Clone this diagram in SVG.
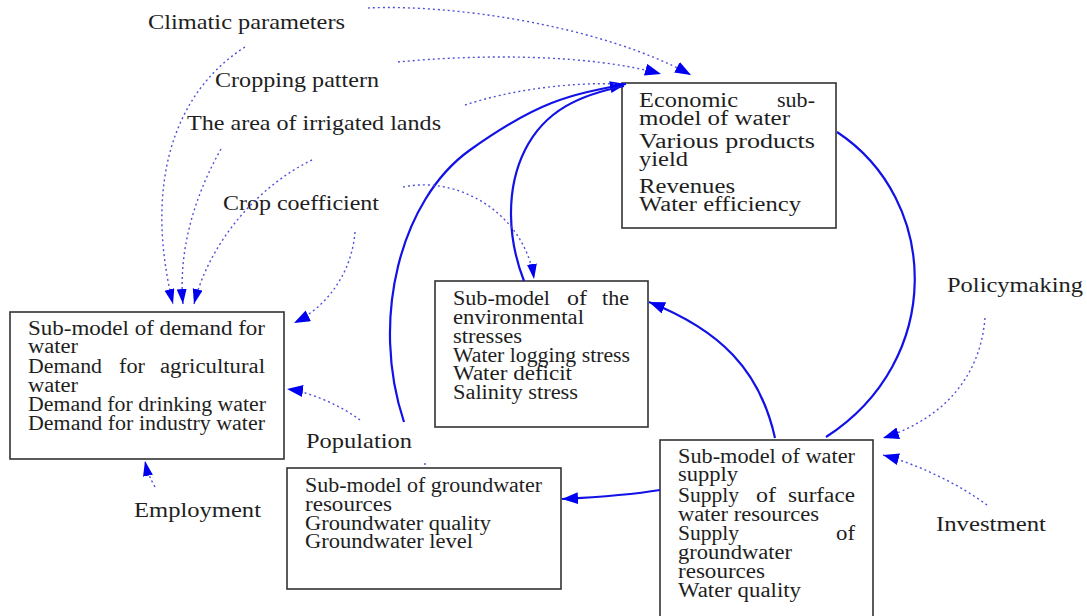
<svg xmlns="http://www.w3.org/2000/svg" width="1087" height="616" viewBox="0 0 1087 616">
<defs>
<style>
.box{fill:#fff;stroke:#333;stroke-width:1.6}
.t{font-family:"Liberation Serif","Times New Roman",serif;font-size:20px;fill:#1e1e1e}
.te{font-family:"Liberation Serif","Times New Roman",serif;font-size:20px;fill:#1e1e1e}
.lb{font-family:"Liberation Serif","Times New Roman",serif;font-size:22px;fill:#1e1e1e}
.s{fill:none;stroke:#1212e6;stroke-width:2.2}
.d{fill:none;stroke:#5050d8;stroke-width:1.4;stroke-dasharray:2 3}
</style>
<marker id="ah" markerUnits="userSpaceOnUse" markerWidth="18" markerHeight="14" refX="16" refY="6" orient="auto">
<path d="M0,0 L16,6 L0,12 z" fill="#0000f0"/>
</marker>
<marker id="an" markerUnits="userSpaceOnUse" markerWidth="16" markerHeight="12" refX="15" refY="5" orient="auto">
<path d="M0,0 L15,5 L0,10 z" fill="#0000f0"/>
</marker>
</defs>
<rect width="1087" height="616" fill="#fff"/>

<g id="economic">
<rect class="box" x="622" y="83" width="214" height="145"/>
<text class="te" x="639" y="107" textLength="99" lengthAdjust="spacingAndGlyphs">Economic</text>
<text class="te" x="777" y="107" textLength="38" lengthAdjust="spacingAndGlyphs">sub-</text>
<text class="te" x="639" y="125" textLength="151" lengthAdjust="spacingAndGlyphs">model of water</text>
<text class="te" x="639" y="148" textLength="176" lengthAdjust="spacingAndGlyphs">Various products</text>
<text class="te" x="639" y="166" textLength="49" lengthAdjust="spacingAndGlyphs">yield</text>
<text class="te" x="639" y="193" textLength="96" lengthAdjust="spacingAndGlyphs">Revenues</text>
<text class="te" x="639" y="211" textLength="162" lengthAdjust="spacingAndGlyphs">Water efficiency</text>
</g>

<g id="demand">
<rect class="box" x="10" y="312" width="274" height="147"/>
<text class="t" x="28" y="335" textLength="237" lengthAdjust="spacingAndGlyphs">Sub-model of demand for</text>
<text class="t" x="28" y="353" textLength="50" lengthAdjust="spacingAndGlyphs">water</text>
<text class="t" x="28" y="373" textLength="74" lengthAdjust="spacingAndGlyphs">Demand</text>
<text class="t" x="119" y="373" textLength="26" lengthAdjust="spacingAndGlyphs">for</text>
<text class="t" x="160" y="373" textLength="105" lengthAdjust="spacingAndGlyphs">agricultural</text>
<text class="t" x="28" y="392" textLength="50" lengthAdjust="spacingAndGlyphs">water</text>
<text class="t" x="28" y="411" textLength="238" lengthAdjust="spacingAndGlyphs">Demand for drinking water</text>
<text class="t" x="28" y="430" textLength="237" lengthAdjust="spacingAndGlyphs">Demand for industry water</text>
</g>

<g id="environmental">
<rect class="box" x="435" y="281" width="213" height="146"/>
<text class="t" x="453" y="305" textLength="97" lengthAdjust="spacingAndGlyphs">Sub-model</text>
<text class="t" x="567" y="305" textLength="20" lengthAdjust="spacingAndGlyphs">of</text>
<text class="t" x="602" y="305" textLength="27" lengthAdjust="spacingAndGlyphs">the</text>
<text class="t" x="453" y="324" textLength="131" lengthAdjust="spacingAndGlyphs">environmental</text>
<text class="t" x="453" y="343" textLength="69" lengthAdjust="spacingAndGlyphs">stresses</text>
<text class="t" x="453" y="362" textLength="177" lengthAdjust="spacingAndGlyphs">Water logging stress</text>
<text class="t" x="453" y="380" textLength="119" lengthAdjust="spacingAndGlyphs">Water deficit</text>
<text class="t" x="453" y="399" textLength="125" lengthAdjust="spacingAndGlyphs">Salinity stress</text>
</g>

<g id="supply">
<rect class="box" x="660" y="440" width="213" height="185"/>
<text class="t" x="678" y="463" textLength="177" lengthAdjust="spacingAndGlyphs">Sub-model of water</text>
<text class="t" x="678" y="481" textLength="60" lengthAdjust="spacingAndGlyphs">supply</text>
<text class="t" x="678" y="502" textLength="61" lengthAdjust="spacingAndGlyphs">Supply</text>
<text class="t" x="756" y="502" textLength="20" lengthAdjust="spacingAndGlyphs">of</text>
<text class="t" x="788" y="502" textLength="67" lengthAdjust="spacingAndGlyphs">surface</text>
<text class="t" x="678" y="521" textLength="141" lengthAdjust="spacingAndGlyphs">water resources</text>
<text class="t" x="678" y="540" textLength="61" lengthAdjust="spacingAndGlyphs">Supply</text>
<text class="t" x="836" y="540" textLength="19" lengthAdjust="spacingAndGlyphs">of</text>
<text class="t" x="678" y="559" textLength="114" lengthAdjust="spacingAndGlyphs">groundwater</text>
<text class="t" x="678" y="578" textLength="87" lengthAdjust="spacingAndGlyphs">resources</text>
<text class="t" x="678" y="597" textLength="123" lengthAdjust="spacingAndGlyphs">Water quality</text>
</g>

<g id="groundwater">
<rect class="box" x="287" y="468" width="274" height="121"/>
<text class="t" x="305" y="492" textLength="237" lengthAdjust="spacingAndGlyphs">Sub-model of groundwater</text>
<text class="t" x="305" y="511" textLength="87" lengthAdjust="spacingAndGlyphs">resources</text>
<text class="t" x="305" y="530" textLength="186" lengthAdjust="spacingAndGlyphs">Groundwater quality</text>
<text class="t" x="305" y="548" textLength="168" lengthAdjust="spacingAndGlyphs">Groundwater level</text>
</g>

<g id="labels">
<text class="lb" x="148" y="29" textLength="197" lengthAdjust="spacingAndGlyphs">Climatic parameters</text>
<text class="lb" x="215" y="87" textLength="164" lengthAdjust="spacingAndGlyphs">Cropping pattern</text>
<text class="lb" x="187" y="130" textLength="254" lengthAdjust="spacingAndGlyphs">The area of irrigated lands</text>
<text class="lb" x="223" y="210" textLength="156" lengthAdjust="spacingAndGlyphs">Crop coefficient</text>
<text class="lb" x="306" y="448" textLength="106" lengthAdjust="spacingAndGlyphs">Population</text>
<text class="lb" x="134" y="517" textLength="127" lengthAdjust="spacingAndGlyphs">Employment</text>
<text class="lb" x="947" y="292" textLength="136" lengthAdjust="spacingAndGlyphs">Policymaking</text>
<text class="lb" x="936" y="531" textLength="110" lengthAdjust="spacingAndGlyphs">Investment</text>
</g>

<g id="connectors">
<path class="s" d="M404,422 C370,320 400,200 470,150 S570,95 626,84" marker-end="url(#ah)"/>
<path class="s" d="M524,281 C508,240 505,190 525,150 S580,95 624,86"/>
<path class="s" d="M837,132 C940,200 945,360 826,437"/>
<path class="s" d="M775,438 C760,370 720,330 649,302" marker-end="url(#ah)"/>
<path class="s" d="M660,490 C630,495 600,497 562,499" marker-end="url(#ah)"/>

<path class="d" d="M368,8 C450,4 600,25 691,75" marker-end="url(#ah)"/>
<path class="d" d="M398,62 C480,54 590,54 661,74" marker-end="url(#ah)"/>
<path class="d" d="M465,105 C510,90 570,82 618,84"/>
<path class="d" d="M245,47 C170,95 145,190 173,304" marker-end="url(#an)"/>
<path class="d" d="M221,149 C195,195 178,250 183,304" marker-end="url(#an)"/>
<path class="d" d="M312,160 C260,185 210,240 194,304" marker-end="url(#an)"/>
<path class="d" d="M355,232 C352,270 330,305 294,323" marker-end="url(#ah)"/>
<path class="d" d="M403,187 C460,175 525,215 534,279" marker-end="url(#an)"/>
<path class="d" d="M360,420 C340,405 310,392 287,389" marker-end="url(#ah)"/>
<path class="d" d="M155,487 C150,478 147,471 145,461" marker-end="url(#an)"/>
<path class="d" d="M985,318 C980,380 940,420 883,438" marker-end="url(#ah)"/>
<path class="d" d="M987,505 C960,485 920,465 883,455" marker-end="url(#ah)"/>
<path class="d" d="M425,463 L425,466"/>
</g>
</svg>
